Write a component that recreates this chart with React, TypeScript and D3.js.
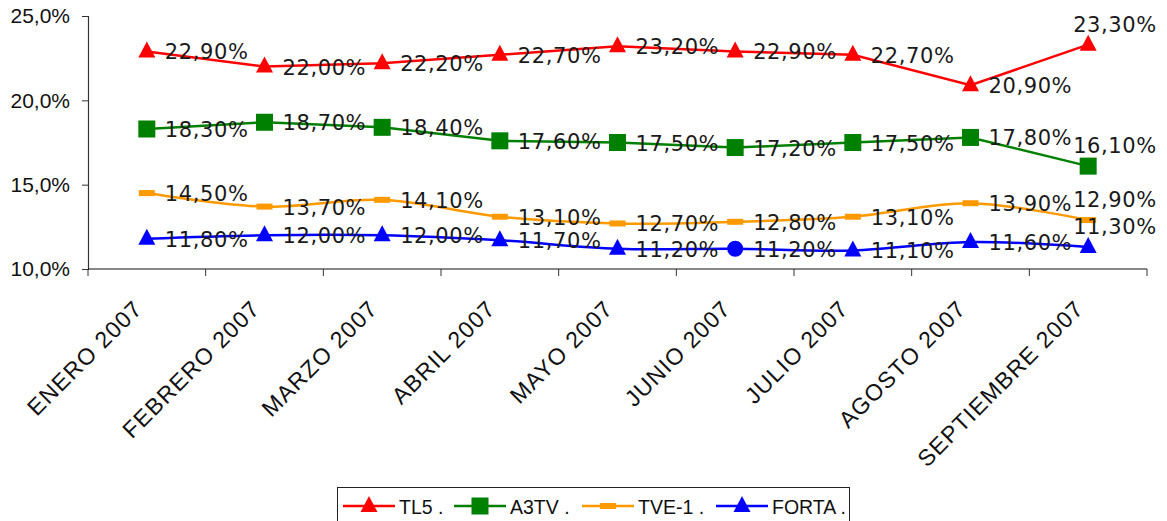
import React, { useEffect, useRef } from "react";
import * as d3 from "d3";

const months = [
  "ENERO 2007",
  "FEBRERO 2007",
  "MARZO 2007",
  "ABRIL 2007",
  "MAYO 2007",
  "JUNIO 2007",
  "JULIO 2007",
  "AGOSTO 2007",
  "SEPTIEMBRE 2007",
];

const tl5 = [22.9, 22.0, 22.2, 22.7, 23.2, 22.9, 22.7, 20.9, 23.3];
const a3tv = [18.3, 18.7, 18.4, 17.6, 17.5, 17.2, 17.5, 17.8, 16.1];
const tve1 = [14.5, 13.7, 14.1, 13.1, 12.7, 12.8, 13.1, 13.9, 12.9];
const forta = [11.8, 12.0, 12.0, 11.7, 11.2, 11.2, 11.1, 11.6, 11.3];

const yTicks = [10, 15, 20, 25];

type Marker = "triangle" | "square" | "dash" | "circle";

const seriesList: { name: string; values: number[]; color: string; marker: Marker; smooth: boolean }[] = [
  { name: "TL5 .", values: tl5, color: "#ff0000", marker: "triangle", smooth: false },
  { name: "A3TV .", values: a3tv, color: "#008000", marker: "square", smooth: false },
  { name: "TVE-1 .", values: tve1, color: "#ff9900", marker: "dash", smooth: true },
  { name: "FORTA .", values: forta, color: "#0000ff", marker: "triangle", smooth: true },
];

// FORTA has one odd round point in june
const fortaCircleAt = 5;

const pct = (v: number) => v.toFixed(2).replace(".", ",") + "%";

const App: React.FC = () => {
  const ref = useRef<SVGSVGElement>(null);

  useEffect(() => {
    const width = 1167;
    const height = 521;
    const left = 88;
    const right = 1147;
    const top = 16;
    const bottom = 269;

    const svg = d3.select(ref.current).attr("width", width).attr("height", height);
    svg.selectAll("*").remove();

    const x = d3.scaleBand<string>().domain(months).range([left, right]);
    const cx = (i: number) => (x(months[i]) as number) + x.bandwidth() / 2;
    const y = d3.scaleLinear().domain([10, 25]).range([bottom, top]);

    // y axis
    const yAxis = d3.axisLeft(y).tickValues(yTicks).tickSize(6).tickPadding(12)
      .tickFormat((d) => (d as number).toFixed(1).replace(".", ",") + "%");
    const gy = svg.append("g").attr("transform", `translate(${left},0)`).call(yAxis);
    gy.select(".domain").attr("stroke", "#333").attr("stroke-width", 1.2);
    gy.selectAll(".tick line").attr("stroke", "#333");
    gy.selectAll(".tick text")
      .attr("font-family", "Liberation Sans, Arial, sans-serif")
      .attr("font-size", 21)
      .attr("fill", "#111");

    // x axis, ticks on category boundaries
    const gx = svg.append("g").attr("transform", `translate(0,${bottom})`);
    gx.append("line").attr("x1", left).attr("x2", right).attr("stroke", "#111").attr("stroke-width", 1.2);
    const bounds = months.map((m) => x(m) as number).concat([right]);
    gx.selectAll("line.tk").data(bounds).enter().append("line")
      .attr("class", "tk")
      .attr("x1", (d) => d).attr("x2", (d) => d)
      .attr("y1", 0).attr("y2", 7)
      .attr("stroke", "#333");
    gx.selectAll("text").data(months).enter().append("text")
      .attr("transform", (d, i) => `translate(${cx(i) - 3},${41}) rotate(-45)`)
      .attr("text-anchor", "end")
      .attr("font-family", "Liberation Sans, Arial, sans-serif")
      .attr("font-size", 23)
      .attr("letter-spacing", 1.2)
      .attr("fill", "#111")
      .text((d) => d);

    const drawMarker = (g: d3.Selection<SVGGElement, unknown, null, undefined>, kind: Marker, px: number, py: number, color: string) => {
      if (kind === "triangle") {
        g.append("path").attr("d", `M${px},${py - 10}L${px + 8.5},${py + 6}L${px - 8.5},${py + 6}Z`).attr("fill", color);
      } else if (kind === "square") {
        g.append("rect").attr("x", px - 8.5).attr("y", py - 8.5).attr("width", 17).attr("height", 17).attr("fill", color);
      } else if (kind === "dash") {
        g.append("rect").attr("x", px - 8).attr("y", py - 3).attr("width", 16).attr("height", 6).attr("fill", color);
      } else {
        g.append("circle").attr("cx", px).attr("cy", py).attr("r", 8).attr("fill", color);
      }
    };

    const plot = svg.append("g");
    seriesList.forEach((s) => {
      const line = d3.line<number>()
        .x((d, i) => cx(i))
        .y((d) => y(d))
        .curve(s.smooth ? d3.curveCatmullRom.alpha(0.5) : d3.curveLinear);
      plot.append("path")
        .attr("d", line(s.values))
        .attr("fill", "none")
        .attr("stroke", s.color)
        .attr("stroke-width", 2.5);
      const mg = plot.append("g");
      s.values.forEach((v, i) => {
        const kind: Marker = s.values === forta && i === fortaCircleAt ? "circle" : s.marker;
        drawMarker(mg, kind, cx(i), y(v), s.color);
      });
    });

    // data labels on top
    const labels = svg.append("g")
      .attr("font-family", "DejaVu Sans, Verdana, sans-serif")
      .attr("font-size", 21)
      .attr("fill", "#1a1a1a");
    seriesList.forEach((s) => {
      s.values.forEach((v, i) => {
        const last = i === s.values.length - 1;
        labels.append("text")
          .attr("x", last ? cx(i) - 15 : cx(i) + 18)
          .attr("y", last ? y(v) - 13 : y(v) + 8)
          .attr("letter-spacing", 0.6)
          .text(pct(v));
      });
    });

    // legend
    const lg = svg.append("g");
    lg.append("rect").attr("x", 337.5).attr("y", 487.5).attr("width", 512).attr("height", 40)
      .attr("fill", "#fff").attr("stroke", "#222").attr("stroke-width", 1);
    const lx = [343, 454, 582, 716];
    seriesList.forEach((s, i) => {
      const ly = 506;
      lg.append("line").attr("x1", lx[i]).attr("x2", lx[i] + 52).attr("y1", ly).attr("y2", ly)
        .attr("stroke", s.color).attr("stroke-width", 2.5);
      drawMarker(lg, s.marker, lx[i] + 26, ly, s.color);
      lg.append("text").attr("x", lx[i] + 56).attr("y", ly + 7.5)
        .attr("font-family", "Liberation Sans, Arial, sans-serif")
        .attr("font-size", 19.5).attr("fill", "#111")
        .text(s.name);
    });
  }, []);

  return (
    <div style={{ position: "absolute", left: 0, top: 0 }}>
      <svg ref={ref} style={{ display: "block", background: "#fff" }}></svg>
    </div>
  );
};

export default App;
